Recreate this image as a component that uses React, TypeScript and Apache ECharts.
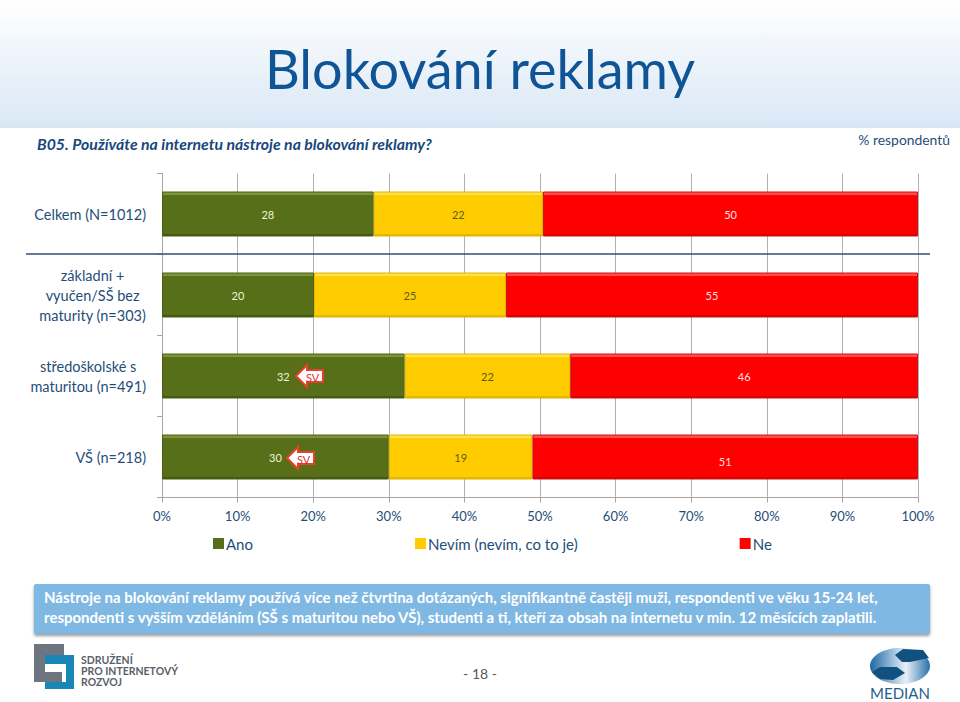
import React, { useEffect, useRef } from "react";
import * as echarts from "echarts";

const categories = [
  "{a|Celkem (N=1012)}",
  "{a|základní +}\n{a|vyučen/SŠ bez}\n{a|maturity (n=303)}",
  "{a|středoškolské s}\n{a|maturitou (n=491)}",
  "{a|VŠ (n=218)}",
];
const ano = [28, 20.1, 32.1, 30];
const nevim = [22.4, 25.4, 21.9, 19];
const ne = [49.6, 54.5, 46, 51];
const xTicks = { min: 0, max: 100, interval: 10 };
const FONT = "Lato, Carlito, sans-serif";
const BLUE = "#1f4e79";
const GREEN = "#576f18";
const YELLOW = "#ffcc00";
const RED = "#ff0000";

function grad(top: string, mid: string, bottom: string) {
  return new echarts.graphic.LinearGradient(0, 0, 0, 1, [
    { offset: 0, color: top },
    { offset: 0.07, color: top },
    { offset: 0.08, color: mid },
    { offset: 0.95, color: mid },
    { offset: 0.96, color: bottom },
    { offset: 1, color: bottom },
  ]);
}

function arrow(x: number, y: number) {
  return {
    type: "group",
    x,
    y,
    z: 20,
    children: [
      {
        type: "polygon",
        z: 20,
        shape: { points: [[0, 11], [11, 0], [11, 5], [27, 5], [27, 17], [11, 17], [11, 22]] },
        style: { fill: "#ffffff", stroke: "#e8402a", lineWidth: 2 },
      },
      { type: "text", z: 21, x: 10, y: 12, style: { text: "SV", font: `11px ${FONT}`, fill: "#e0302a", verticalAlign: "middle" } },
    ],
  };
}

export default function App() {
  const ref = useRef<HTMLDivElement>(null);
  useEffect(() => {
    const chart = echarts.init(ref.current!, undefined, { renderer: "svg" });
    const series = (name: string, data: any[], color: any, border: string, labelColor: string) => ({
      name,
      type: "bar",
      stack: "total",
      barWidth: 45,
      data,
      itemStyle: { color, borderColor: border, borderWidth: 1 },
      label: {
        show: true,
        position: "inside",
        color: labelColor,
        fontFamily: FONT,
        fontSize: 11,
        formatter: (p: any) => String(Math.round(p.value)),
      },
    });
    chart.setOption({
      animation: false,
      backgroundColor: "#ffffff",
      textStyle: { fontFamily: FONT },
      grid: { left: 162, right: 42, top: 173.5, bottom: 204.5 },
      legend: {
        left: 208,
        top: 531,
        itemWidth: 5,
        itemHeight: 5,
        itemGap: 162,
        icon: "rect",
        itemStyle: { borderWidth: 6 },
        textStyle: { fontFamily: FONT, fontSize: 15, color: BLUE },
        data: [
          { name: "Ano", itemStyle: { color: GREEN, borderColor: GREEN } },
          { name: "Nevím (nevím, co to je)", itemStyle: { color: YELLOW, borderColor: YELLOW } },
          { name: "Ne", itemStyle: { color: RED, borderColor: RED } },
        ],
      },
      xAxis: {
        type: "value",
        ...xTicks,
        axisLine: { show: true, lineStyle: { color: "#a6a6a6" } },
        axisTick: { show: true, length: 5, lineStyle: { color: "#a6a6a6" } },
        axisLabel: { formatter: "{value}%", color: BLUE, fontFamily: FONT, fontSize: 13, margin: 12 },
        splitLine: { show: true, lineStyle: { color: "#b0b0b0", width: 1 } },
      },
      yAxis: {
        type: "category",
        inverse: true,
        data: categories,
        axisLine: { show: true, lineStyle: { color: "#a6a6a6" } },
        axisTick: { show: true, length: 5, lineStyle: { color: "#a6a6a6" } },
        axisLabel: {
          margin: 16,
          align: "right",
          rich: { a: { align: "center", color: BLUE, fontFamily: FONT, fontSize: 14.5, lineHeight: 20 } },
        },
      },
      series: [
        series("Ano", ano, grad("#7d9438", GREEN, "#45590f"), "#4a5f14", "#eef4d8"),
        series("Nevím (nevím, co to je)", nevim, grad("#ffe04d", YELLOW, "#e6b800"), "#e0b400", "#5f5a20"),
        series(
          "Ne",
          ne.map((v, i) => (i === 3 ? { value: v, label: { offset: [0, 4] } } : v)),
          grad("#ff4d4d", RED, "#d90000"),
          "#c81414",
          "#ffe0e0"
        ),
      ],
      graphic: [
        {
          type: "rect", z: -10,
          shape: { x: 0, y: 0, width: 960, height: 128 },
          style: {
            fill: new echarts.graphic.LinearGradient(0, 0, 0, 1, [
              { offset: 0, color: "#ffffff" },
              { offset: 1, color: "#d9e7f5" },
            ]),
          },
        },
        { type: "text", x: 480, y: 68, style: { text: "Blokování reklamy", font: `54px ${FONT}`, fill: "#0f5596", align: "center", verticalAlign: "middle" } },
        { type: "text", x: 37, y: 143, style: { text: "B05. Používáte na internetu nástroje na blokování reklamy?", font: `italic bold 15.8px ${FONT}`, fill: "#17477d", verticalAlign: "middle" } },
        { type: "text", x: 950, y: 139, style: { text: "% respondentů", font: `13.9px ${FONT}`, fill: BLUE, align: "right", verticalAlign: "middle" } },
        { type: "line", z: 5, shape: { x1: 26, y1: 254, x2: 930, y2: 254 }, style: { stroke: "#2f4f6f", lineWidth: 1.5 } },
        arrow(296, 365),
        arrow(287, 447),
        { type: "rect", shape: { x: 34, y: 584, width: 896, height: 50, r: 2 }, style: { fill: "#7fb8e2", shadowBlur: 3, shadowColor: "rgba(0,0,0,0.4)", shadowOffsetY: 2 } },
        { type: "text", x: 44, y: 597, style: { text: "Nástroje na blokování reklamy používá více než čtvrtina dotázaných, signifikantně častěji muži, respondenti ve věku 15-24 let,", font: `bold 15px ${FONT}`, fill: "#ffffff", verticalAlign: "middle" } },
        { type: "text", x: 44, y: 617, style: { text: "respondenti s vyšším vzděláním (SŠ s maturitou nebo VŠ), studenti a ti, kteří za obsah na internetu v min. 12 měsících zaplatili.", font: `bold 15px ${FONT}`, fill: "#ffffff", verticalAlign: "middle" } },
        { type: "text", x: 480, y: 673, style: { text: "- 18 -", font: `14px ${FONT}`, fill: "#595959", align: "center", verticalAlign: "middle" } },
        { type: "polygon", shape: { points: [[34, 644], [64, 644], [64, 655], [45, 655], [45, 672], [62, 672], [62, 682], [34, 682]] }, style: { fill: "#6d7580" } },
        { type: "polygon", shape: { points: [[45, 655], [74, 655], [74, 689], [45, 689], [45, 682], [66, 682], [66, 664], [45, 664]] }, style: { fill: "#1a86b5" } },
        { type: "text", x: 81, y: 660, style: { text: "SDRUŽENÍ", font: `bold 10.5px ${FONT}`, fill: "#5a6068", verticalAlign: "middle" } },
        { type: "text", x: 81, y: 671, style: { text: "PRO INTERNETOVÝ", font: `bold 10.5px ${FONT}`, fill: "#5a6068", verticalAlign: "middle" } },
        { type: "text", x: 81, y: 682, style: { text: "ROZVOJ", font: `bold 10.5px ${FONT}`, fill: "#5a6068", verticalAlign: "middle" } },
        {
          type: "ellipse",
          shape: { cx: 900, cy: 666, rx: 30, ry: 18 },
          style: {
            fill: new echarts.graphic.LinearGradient(0, 0, 1, 0, [
              { offset: 0, color: "#1f68a3" },
              { offset: 0.45, color: "#b5d0e6" },
              { offset: 0.6, color: "#e8f0f8" },
              { offset: 1, color: "#2a70a8" },
            ]),
          },
        },
        { type: "polygon", shape: { points: [[895, 655], [903, 649], [923, 650], [929, 658], [910, 662], [902, 662]] }, style: { fill: "#12507f" } },
        { type: "polygon", shape: { points: [[872, 672], [880, 667], [897, 667], [905, 673], [893, 680], [880, 679]] }, style: { fill: "#12507f" } },
        { type: "text", x: 900, y: 693, style: { text: "MEDIAN", font: `15px ${FONT}`, fill: "#1f5f8f", align: "center", verticalAlign: "middle" } },
      ],
    });
    return () => chart.dispose();
  }, []);
  return <div ref={ref} style={{ position: "absolute", left: 0, top: 0, width: 960, height: 702 }} />;
}
